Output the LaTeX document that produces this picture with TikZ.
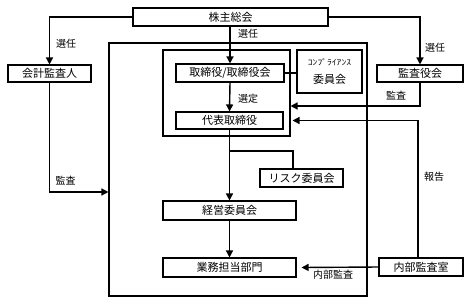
\documentclass[tikz,border=0pt]{standalone}
\usepackage{fontspec}
\setmainfont{Noto Sans CJK JP}
\usetikzlibrary{arrows.meta}
\tikzset{
  box/.style={draw, line width=1.1pt, fill=white, inner sep=0pt, font=\fontsize{11}{12}\selectfont},
  frame/.style={draw, line width=1.1pt, inner sep=0pt},
  conn/.style={line width=1.4pt},
  arr/.style={conn, -{Triangle[length=7pt,width=7pt]}},
  lbl/.style={font=\fontsize{10}{11}\selectfont, inner sep=0pt}
}
\begin{document}
\begin{tikzpicture}[x=1pt,y=-1pt]
\useasboundingbox (0,0) rectangle (471,303);
% frames
\node[frame, minimum width=258pt, minimum height=253pt] (outer) at (238,169.5) {};
\node[frame, minimum width=127pt, minimum height=86pt] (inner) at (226.5,93) {};
% boxes
\node[box, minimum width=195pt, minimum height=18pt] (kabu) at (230.5,17) {株主総会};
\node[box, minimum width=83pt, minimum height=17pt] (kaikei) at (49.5,73.5) {会計監査人};
\node[box, minimum width=108pt, minimum height=18pt] (tori) at (230,73) {取締役/取締役会};
\node[box, minimum width=107pt, minimum height=17pt] (daihyo) at (229.5,120.5) {代表取締役};
\node[box, minimum width=65pt, minimum height=43pt, align=center] (comp) at (329.5,71.5)
  {\scalebox{1.2}[1]{\fontsize{8}{8}\selectfont ｺﾝﾌﾟﾗｲｱﾝｽ}\\[6pt]委員会};
\node[box, minimum width=86pt, minimum height=17pt] (kansayaku) at (420,73.5) {監査役会};
\node[box, minimum width=83pt, minimum height=18pt] (risk) at (301.5,178) {リスク委員会};
\node[box, minimum width=133pt, minimum height=19pt] (keiei) at (229.5,210.5) {経営委員会};
\node[box, minimum width=133pt, minimum height=19pt] (gyomu) at (229.5,267.5) {業務担当部門};
\node[box, minimum width=84pt, minimum height=18pt] (naibu) at (421,267) {内部監査室};
% connectors
\draw[arr] (kabu.west) -| (kaikei.north);
\draw[arr] (kabu.east) -| (kansayaku.north);
\draw[arr] (tori.north |- kabu.south) -- (tori.north);
\draw[arr] (tori.south) -- (daihyo.north);
\draw[arr] (daihyo.south) -- (keiei.north);
\draw[arr] (keiei.south) -- (gyomu.north);
\draw[arr] (kaikei.south) |- ([yshift=-22.5pt]outer.west);
\draw[arr] (kansayaku.south) |- ([yshift=-13pt]inner.east);
\draw[arr] ([xshift=-3pt]naibu.north) |- ([xshift=2pt]inner.east |- daihyo.east);
\draw[arr] (naibu.west) -- ([xshift=5pt]gyomu.east);
\draw[conn] (tori.east) -- (tori.east -| comp.west);
\coordinate (br) at (230,151);
\draw[conn] (br) -| ([xshift=-8.5pt]risk.north);
% labels
\node[lbl] (l1) at (66,44) {選任};
\node[lbl] (l2) at (248,34) {選任};
\node[lbl] (l3) at (435,48) {選任};
\node[lbl] (l4) at (248,99) {選定};
\node[lbl] (l5) at (396,96) {監査};
\node[lbl] (l6) at (65.5,181) {監査};
\node[lbl] (l7) at (434,177) {報告};
\node[lbl] (l8) at (333,275) {内部監査};
\end{tikzpicture}
\end{document}
